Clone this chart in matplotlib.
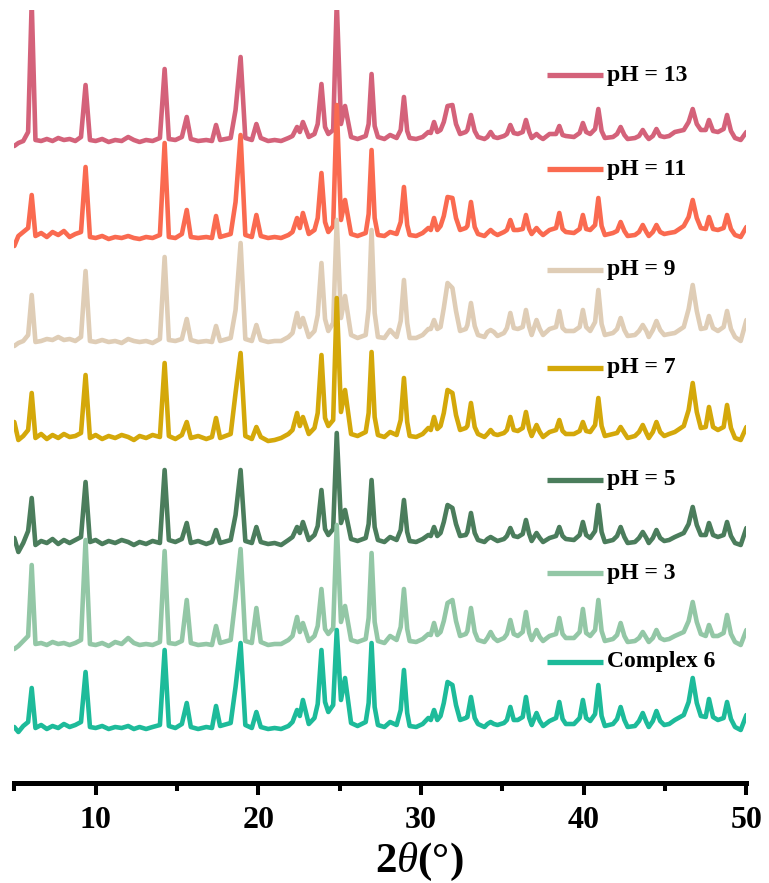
import matplotlib
matplotlib.use("Agg")
import matplotlib.pyplot as plt
from matplotlib.ticker import FixedLocator

plt.rcParams['font.family'] = ['Liberation Serif', 'DejaVu Serif']
plt.rcParams['mathtext.fontset'] = 'custom'
plt.rcParams['mathtext.rm'] = 'Liberation Serif:bold'
plt.rcParams['mathtext.bf'] = 'Liberation Serif:bold'
plt.rcParams['mathtext.it'] = 'Liberation Serif:italic'

# ---------------- data (intensity, arbitrary units) ----------------
labels = ["pH = 13", "pH = 11", "pH = 9", "pH = 7", "pH = 5", "pH = 3", "Complex 6"]
colors = ["#D4627A", "#FA6A50", "#DFCDB6", "#D4A80A", "#4B7D5C", "#93C7A6", "#1DBB9A"]

# peak tops
peak_pos = [6.07, 9.38, 14.24, 15.6, 17.4, 18.6, 18.91, 19.88, 22.38, 22.74, 23.88, 24.82,
            25.33, 26.96, 28.1, 28.95, 30.8, 31.63, 31.93, 33.07, 34.28, 35.49, 36.45, 37.1,
            38.5, 39.95, 40.9, 42.27, 43.63, 44.47, 45.6, 46.7, 47.7, 48.81]

peak_pH13 = [140, 57, 73, 25, 17, 32, 85, 18, 15, 20, 58, 140, 36, 68, 7, 45, 20, 36, 37, 27,
             10, 17, 22, 8, 16, 19, 33, 15, 12, 13, 10, 33, 22, 27]
peak_pH11 = [45, 73, 97, 30, 24, 38, 105, 25, 22, 27, 67, 135, 40, 90, 8, 53, 22, 43, 42, 38,
             10, 20, 25, 12, 27, 25, 42, 18, 15, 15, 8, 40, 23, 25]
peak_pH9 = [48, 72, 86, 24, 17, 33, 100, 18, 30, 25, 80, 123, 47, 113, 13, 63, 23, 60, 55, 40,
            13, 30, 33, 23, 32, 33, 53, 25, 18, 22, 10, 58, 27, 32]
peak_pH7 = [47, 65, 77, 18, 22, 47, 87, 13, 27, 23, 85, 142, 50, 88, 8, 62, 23, 50, 47, 37,
            10, 23, 28, 15, 20, 18, 42, 13, 15, 18, 8, 57, 33, 35]
peak_pH5 = [47, 63, 75, 22, 15, 30, 75, 18, 18, 23, 55, 112, 35, 65, 8, 45, 18, 40, 37, 32,
            8, 17, 25, 12, 18, 23, 40, 18, 13, 15, 8, 38, 22, 23]
peak_pH3 = [81, 106, 95, 46, 20, 48, 97, 38, 29, 23, 57, 121, 40, 93, 10, 57, 23, 43, 46, 38,
            14, 26, 34, 16, 28, 37, 46, 23, 14, 16, 10, 44, 21, 31]
peak_C6 = [42, 58, 80, 27, 24, 43, 87, 18, 20, 30, 80, 100, 52, 87, 8, 60, 20, 48, 45, 33,
           8, 23, 33, 17, 28, 30, 45, 23, 17, 19, 10, 52, 31, 28]

# peak flanks (level just beside the peaks)
foot_pos = [23.65, 24.1, 26.78, 27.15, 28.75, 29.15, 30.6, 31.0, 31.4, 32.15,
            32.85, 33.3, 34.08, 34.48, 35.28, 35.7, 36.25, 36.65, 37.3, 38.3,
            38.7, 39.75, 40.15, 40.7, 41.1, 42.05, 42.5, 43.4, 43.85, 44.25,
            44.7, 46.45, 46.95, 47.5, 47.95, 48.6, 49.05]

foot_pH13 = [18, 15, 18, 16, 12, 11, 9, 10, 20, 18, 12, 11, 5, 5, 8, 9, 10, 10, 5, 8,
             7, 9, 10, 13, 11, 8, 7, 6, 6, 6, 6, 20, 18, 12, 11, 13, 11]
foot_pH11 = [22, 18, 26, 22, 18, 15, 10, 10, 24, 22, 14, 13, 7, 7, 10, 10, 11, 11, 8, 12,
             11, 11, 11, 15, 14, 9, 9, 8, 8, 8, 8, 23, 22, 11, 11, 12, 11]
foot_pH9 = [28, 24, 34, 30, 22, 20, 14, 14, 35, 32, 18, 17, 11, 11, 15, 15, 16, 16, 14, 16,
            15, 16, 16, 21, 19, 14, 13, 12, 12, 13, 13, 34, 32, 15, 15, 16, 14]
foot_pH7 = [27, 22, 27, 23, 20, 18, 10, 11, 27, 25, 14, 13, 6, 6, 10, 10, 12, 11, 8, 10,
            9, 9, 9, 15, 14, 7, 7, 8, 7, 8, 8, 30, 28, 13, 13, 13, 12]
foot_pH5 = [19, 16, 21, 18, 15, 13, 9, 9, 23, 21, 13, 12, 6, 6, 9, 9, 11, 11, 7, 9,
            9, 10, 10, 14, 13, 9, 8, 7, 7, 7, 7, 21, 20, 10, 10, 10, 9]
foot_pH3 = [20, 17, 28, 24, 19, 17, 11, 11, 25, 25, 15, 14, 8, 8, 12, 12, 14, 13, 9, 12,
            12, 14, 13, 16, 15, 11, 10, 8, 8, 8, 8, 25, 24, 10, 10, 13, 12]
foot_C6 = [26, 28, 27, 23, 20, 17, 10, 10, 27, 25, 13, 12, 6, 6, 10, 10, 13, 12, 9, 12,
           11, 12, 12, 16, 14, 11, 10, 9, 8, 9, 9, 28, 27, 13, 13, 12, 11]

# background between peaks
base_pos = [5.0, 5.25, 5.55, 5.85, 6.3, 6.65, 7.0, 7.35, 7.7, 8.05,
            8.4, 8.75, 9.1, 9.65, 10.0, 10.4, 10.8, 11.2, 11.6, 12.0,
            12.35, 12.7, 13.1, 13.5, 13.95, 14.5, 14.9, 15.3, 15.85, 16.3,
            16.8, 17.15, 17.65, 18.3, 19.2, 19.6, 20.15, 20.6, 21.0, 21.4,
            21.85, 22.1, 22.55, 23.1, 23.45, 24.3, 24.6, 25.08, 25.7, 26.1,
            26.6, 27.35, 27.75, 28.5, 29.3, 29.7, 30.1, 30.45, 31.2, 32.4,
            32.75, 33.5, 33.9, 34.7, 35.1, 35.95, 36.8, 37.5, 37.9, 38.9,
            39.4, 40.4, 41.3, 41.8, 42.7, 43.15, 44.0, 44.95, 45.25, 46.15,
            47.2, 48.25, 49.3, 49.65, 50.0]

base_pH13 = [-4, -1, 1, 10, 2, 1, 3, 1, 4, 2,
             3, 1, 5, 2, 1, 3, 0, 2, 1, 5,
             2, 0, 2, 1, 4, 3, 2, 5, 3, 1,
             2, 1, 2, 4, 4, 2, 4, 1, 2, 1,
             4, 6, 10, 5, 8, 8, 12, 18, 5, 3,
             6, 5, 3, 4, 4, 3, 5, 10, 12, 8,
             10, 5, 3, 4, 6, 8, 4, 3, 8, 6,
             5, 8, 4, 5, 3, 4, 3, 5, 6, 12,
             12, 10, 4, 2, 10]
base_pH11 = [-6, 4, 8, 12, 4, 7, 3, 8, 5, 9,
             3, 6, 8, 3, 2, 4, 1, 3, 2, 4,
             2, 1, 3, 2, 5, 3, 2, 6, 3, 2,
             3, 2, 3, 6, 5, 3, 4, 2, 3, 2,
             5, 8, 12, 6, 10, 8, 14, 20, 6, 4,
             7, 5, 4, 6, 5, 4, 7, 12, 14, 10,
             12, 6, 4, 5, 8, 10, 6, 5, 10, 8,
             7, 10, 5, 7, 4, 5, 4, 6, 7, 14,
             12, 10, 5, 3, 13]
base_pH9 = [-3, 0, 2, 8, 1, 2, 4, 3, 6, 3,
            4, 2, 6, 2, 1, 3, 1, 2, 0, 4,
            2, 1, 2, 0, 4, 3, 2, 4, 3, 1,
            2, 1, 2, 5, 4, 2, 3, 1, 2, 2,
            6, 10, 16, 6, 12, 12, 20, 25, 8, 5,
            8, 6, 5, 6, 5, 5, 8, 14, 16, 12,
            14, 8, 6, 7, 10, 14, 8, 8, 14, 12,
            12, 12, 8, 10, 7, 8, 6, 8, 9, 16,
            14, 12, 6, 2, 23]
base_pH7 = [18, 0, 4, 10, 2, 6, 1, 5, 2, 6,
            3, 4, 7, 2, 5, 1, 4, 2, 5, 3,
            0, 4, 2, 5, 3, 4, 1, 5, 2, 4,
            1, 3, 2, 6, 4, 1, 3, -1, 0, 2,
            6, 10, 14, 6, 12, 14, 20, 28, 6, 4,
            8, 5, 3, 5, 4, 3, 6, 12, 14, 10,
            12, 6, 3, 5, 7, 9, 4, 3, 8, 6,
            6, 8, 4, 6, 2, 4, 2, 4, 6, 14,
            12, 10, 2, 0, 13]
base_pH5 = [7, -7, 2, 14, 0, 4, 2, 6, 1, 5,
            2, 5, 8, 3, 5, 1, 4, 2, 5, 3,
            0, 3, 1, 4, 2, 5, 3, 6, 2, 4,
            1, 3, 2, 5, 4, 2, 3, 1, 2, 0,
            5, 8, 12, 5, 10, 10, 16, 22, 6, 4,
            7, 5, 3, 5, 4, 3, 6, 10, 12, 9,
            10, 5, 3, 4, 6, 8, 4, 3, 7, 6,
            5, 7, 3, 5, 2, 3, 2, 4, 5, 12,
            10, 8, 2, 0, 17]
base_pH3 = [-3, 0, 5, 10, 2, 3, 1, 4, 2, 3,
            1, 3, 6, 2, 1, 3, 0, 4, 2, 8,
            3, 1, 2, 1, 4, 3, 2, 5, 3, 1,
            2, 1, 3, 6, 5, 3, 4, 1, 2, 2,
            6, 10, 14, 5, 10, 12, 18, 24, 6, 4,
            7, 5, 3, 6, 5, 4, 7, 12, 14, 10,
            12, 6, 4, 5, 8, 10, 6, 5, 10, 8,
            8, 10, 5, 7, 4, 5, 4, 6, 7, 14,
            12, 10, 4, 1, 16]
base_C6 = [3, -2, 4, 8, 2, 5, 1, 4, 2, 6,
           3, 5, 8, 3, 2, 4, 1, 3, 2, 4,
           1, 3, 1, 3, 5, 4, 2, 6, 3, 1,
           3, 2, 4, 7, 5, 2, 3, 1, 2, 1,
           4, 8, 14, 6, 12, 18, 25, 30, 7, 4,
           8, 5, 3, 5, 4, 3, 6, 12, 14, 10,
           12, 6, 3, 5, 7, 10, 5, 4, 9, 6,
           6, 9, 4, 6, 3, 4, 3, 5, 6, 15,
           14, 10, 3, 0, 15]

# vertical stacking offsets (same units as intensity)
offsets = [641, 543, 440, 343, 238, 137, 53]

peaks = [peak_pH13, peak_pH11, peak_pH9, peak_pH7, peak_pH5, peak_pH3, peak_C6]
feet = [foot_pH13, foot_pH11, foot_pH9, foot_pH7, foot_pH5, foot_pH3, foot_C6]
bases = [base_pH13, base_pH11, base_pH9, base_pH7, base_pH5, base_pH3, base_C6]

# legend vertical positions (pixel rows in the figure)
legend_rows = [75, 169, 270, 368, 480, 573, 662]

# ---------------- figure ----------------
W, H = 769, 883
fig = plt.figure(figsize=(W / 100, H / 100), dpi=100)
ax_left, ax_right, ax_bottom, ax_top = 14.3, 746.4, 783, 10
ax = fig.add_axes([ax_left / W, (H - ax_bottom) / H, (ax_right - ax_left) / W,
                   (ax_bottom - ax_top) / H])
ax.set_xlim(5, 50)
ax.set_ylim(0, ax_bottom - ax_top)

for lab, col, off, pk, ft, bs in zip(labels, colors, offsets, peaks, feet, bases):
    pts = sorted(list(zip(base_pos, bs)) + list(zip(peak_pos, pk)) + list(zip(foot_pos, ft)))
    xs = [p[0] for p in pts]
    ys = [p[1] + off for p in pts]
    ax.plot(xs, ys, color=col, lw=3.3, solid_joinstyle='round', solid_capstyle='round')

# legend-like labels
for lab, col, row in zip(labels, colors, legend_rows):
    yf = (ax_bottom - row) / (ax_bottom - ax_top)
    x0 = (547 - ax_left) / (ax_right - ax_left)
    x1 = (603 - ax_left) / (ax_right - ax_left)
    ax.plot([x0, x1], [yf, yf], transform=ax.transAxes, color=col, lw=3.8,
            solid_capstyle='butt', clip_on=False)
    ax.text((607 - ax_left) / (ax_right - ax_left), yf, lab, transform=ax.transAxes,
            fontsize=17, fontweight='bold', va='center', ha='left', color='black')

for s in ['left', 'right', 'top']:
    ax.spines[s].set_visible(False)
ax.spines['bottom'].set_linewidth(3.6)
ax.spines['bottom'].set_capstyle('projecting')
ax.set_yticks([])
ax.xaxis.set_major_locator(FixedLocator([10, 20, 30, 40, 50]))
ax.xaxis.set_minor_locator(FixedLocator([5, 15, 25, 35, 45]))
ax.tick_params(axis='x', which='major', direction='out', length=8.6, width=2.9, pad=8)
ax.tick_params(axis='x', which='minor', direction='out', length=5.8, width=2.9)
for t in ax.get_xticklabels():
    t.set_fontsize(23)
    t.set_fontweight('bold')

ax.set_xlabel(r'$\mathbf{2}\mathit{\theta}$(°)', fontsize=31, fontweight='bold')
ax.xaxis.set_label_coords((419 - ax_left) / (ax_right - ax_left),
                          -(862 - ax_bottom) / (ax_bottom - ax_top))
ax.xaxis.label.set_verticalalignment('center')

fig.savefig('out.png', dpi=100)
